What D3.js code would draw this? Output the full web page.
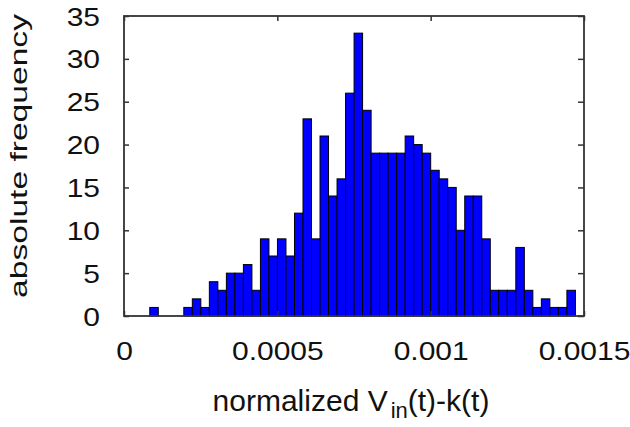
<!DOCTYPE html>
<html>
<head>
<meta charset="utf-8">
<script src="https://cdn.jsdelivr.net/npm/d3@7"></script>
<style>
  body { margin: 0; background: #fff; }
  svg { display: block; }
</style>
</head>
<body>
<div id="chart"></div>
<script>
// histogram counts, one per bin
const counts = [1, 0, 0, 0, 1, 2, 1, 4, 3, 5,
                5, 6, 3, 9, 7, 9, 7, 12, 23, 9,
                21, 14, 16, 26, 33, 24, 19, 19, 19, 19,
                21, 20, 19, 17, 16, 15, 10, 14, 14, 9,
                3, 3, 3, 8, 3, 1, 2, 1, 1, 3];
// range covered by the bins
const binLo = 0.0000840;
const binHi = 0.0014720;

const xTicks = [0, 0.0005, 0.001, 0.0015];
const xTickLabels = ["0", "0.0005", "0.001", "0.0015"];
const yTicks = [0, 5, 10, 15, 20, 25, 30, 35];

const width = 630, height = 427;
const margin = {top: 16, right: 46, bottom: 111, left: 124};
const font = "'Liberation Sans', Arial, sans-serif";
const axisColor = "#333";

const binW = (binHi - binLo) / counts.length;
const bins = counts.map((c, i) => ({x0: binLo + i * binW, x1: binLo + (i + 1) * binW, n: c}));

const x = d3.scaleLinear()
    .domain([0, 0.0015])
    .range([margin.left, width - margin.right]);

const y = d3.scaleLinear()
    .domain([0, 35])
    .range([height - margin.bottom, margin.top]);

const svg = d3.select("#chart")
  .append("svg")
    .attr("width", width)
    .attr("height", height);

// bars
svg.append("g")
    .attr("fill", "#0000ff")
    .attr("stroke", "#000")
    .attr("stroke-width", 1)
  .selectAll("rect")
  .data(bins.filter(d => d.n > 0))
  .enter().append("rect")
    .attr("x", d => x(d.x0))
    .attr("y", d => y(d.n))
    .attr("width", d => x(d.x1) - x(d.x0))
    .attr("height", d => y(0) - y(d.n));

// left axis with labels
let yAxis = g => g
    .attr("transform", `translate(${margin.left},0)`)
    .call(d3.axisLeft(y).tickValues(yTicks).tickSizeInner(-5).tickSizeOuter(0).tickPadding(24))
    .call(g => g.select(".domain").remove())
    .call(g => g.selectAll(".tick line").attr("stroke", axisColor).attr("stroke-width", 1.5))
    .call(g => g.selectAll(".tick text")
        .attr("x", 0)
        .attr("dy", "0.36em")
        .attr("transform", "translate(-24,0) scale(1.2,1)")
        .attr("fill", "#111"))
    .attr("font-family", font)
    .attr("font-size", 25);

// right axis, ticks only
let yAxisR = g => g
    .attr("transform", `translate(${width - margin.right},0)`)
    .call(d3.axisRight(y).tickValues(yTicks).tickSizeInner(-6).tickSizeOuter(0).tickFormat(""))
    .call(g => g.select(".domain").remove())
    .call(g => g.selectAll(".tick line").attr("stroke", axisColor).attr("stroke-width", 1.5));

// bottom axis with labels
let xAxis = g => g
    .attr("transform", `translate(0,${height - margin.bottom})`)
    .call(d3.axisBottom(x).tickValues(xTicks).tickSizeInner(-5).tickSizeOuter(0).tickPadding(26)
        .tickFormat((d, i) => xTickLabels[i]))
    .call(g => g.select(".domain").remove())
    .call(g => g.selectAll(".tick line").attr("stroke", axisColor).attr("stroke-width", 1.5))
    .call(g => g.selectAll(".tick text")
        .attr("y", 0)
        .attr("dy", 0)
        .attr("transform", "translate(0,44) scale(1.2,1)")
        .attr("fill", "#111"))
    .attr("font-family", font)
    .attr("font-size", 25);

// top axis, ticks only
let xAxisT = g => g
    .attr("transform", `translate(0,${margin.top})`)
    .call(d3.axisTop(x).tickValues(xTicks).tickSizeInner(-5).tickSizeOuter(0).tickFormat(""))
    .call(g => g.select(".domain").remove())
    .call(g => g.selectAll(".tick line").attr("stroke", axisColor).attr("stroke-width", 1.5));

svg.append("g").call(yAxis);
svg.append("g").call(yAxisR);
svg.append("g").call(xAxis);
svg.append("g").call(xAxisT);

// frame
svg.append("rect")
    .attr("x", x(0))
    .attr("y", y(35))
    .attr("width", x(0.0015) - x(0))
    .attr("height", y(0) - y(35))
    .attr("fill", "none")
    .attr("stroke", axisColor)
    .attr("stroke-width", 1.8);

// x title with subscript
let xt = svg.append("text")
    .attr("x", 351)
    .attr("y", 411)
    .attr("text-anchor", "middle")
    .attr("font-family", font)
    .attr("font-size", 30)
    .attr("fill", "#111");
xt.append("tspan").text("normalized V");
xt.append("tspan").attr("font-size", 22).attr("dy", 7).attr("dx", 3).text("in");
xt.append("tspan").attr("dy", -7).text("(t)-k(t)");

// y title
svg.append("text")
    .attr("transform", "translate(26.5,156) rotate(-90) scale(1.4,1)")
    .attr("text-anchor", "middle")
    .attr("font-family", font)
    .attr("font-size", 24)
    .attr("fill", "#111")
    .text("absolute frequency");
</script>
</body>
</html>
